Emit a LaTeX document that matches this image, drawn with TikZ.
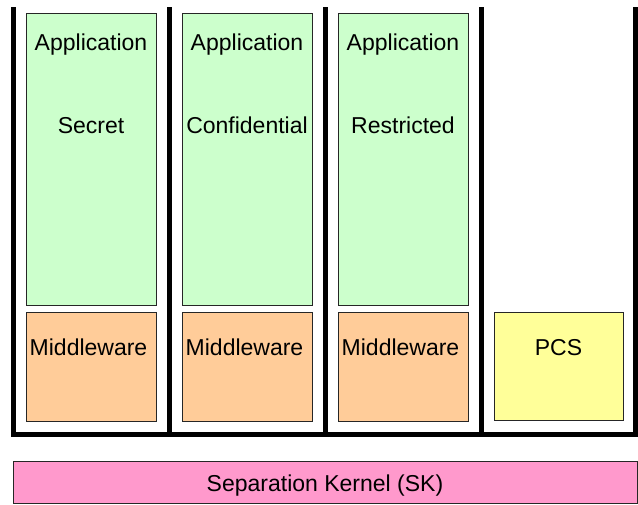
\documentclass[tikz,border=0pt]{standalone}
\usepackage{fontspec}
\setmainfont{Liberation Sans}
\definecolor{appgreen}{HTML}{CCFFCC}
\definecolor{midorange}{HTML}{FFCC99}
\definecolor{pcsyellow}{HTML}{FFFF99}
\definecolor{skpink}{HTML}{FF99CC}
\begin{document}
\begin{tikzpicture}[x=1pt,y=-1pt,
  box/.style={draw=black!85, line width=0.9pt, inner sep=0pt, anchor=north west},
  appbox/.style={box, fill=appgreen, minimum width=130pt, minimum height=292pt},
  midbox/.style={box, fill=midorange, minimum width=130pt, minimum height=109pt},
  lbl/.style={anchor=base, inner sep=0pt, font=\fontsize{23}{27}\selectfont},
  frameline/.style={line width=5.5pt, black, line join=miter}]
\useasboundingbox (0,0) rectangle (638,504);
% frame
\draw[frameline] (13.5,7) -- (13.5,434.5) -- (635.5,434.5) -- (635.5,7);
\draw[frameline] (169.5,7) -- (169.5,434.5);
\draw[frameline] (325.5,7) -- (325.5,434.5);
\draw[frameline] (481.5,7) -- (481.5,434.5);
% application boxes
\node[appbox] (app1) at (26,13) {};
\node[appbox] (app2) at (182,13) {};
\node[appbox] (app3) at (338,13) {};
\node[lbl] (a1) at (91,50) {Application};
\node[lbl] (a2) at (247,50) {Application};
\node[lbl] (a3) at (403,50) {Application};
\node[lbl] (s1) at (91,133) {Secret};
\node[lbl] (s2) at (247,133) {Confidential};
\node[lbl] (s3) at (403,133) {Restricted};
% middleware boxes
\node[midbox] (mid1) at (26,312) {};
\node[midbox] (mid2) at (182,312) {};
\node[midbox] (mid3) at (338,312) {};
\node[lbl] (m1) at (88.5,355) {Middleware};
\node[lbl] (m2) at (244.5,355) {Middleware};
\node[lbl] (m3) at (400.5,355) {Middleware};
% PCS
\node[box, fill=pcsyellow, minimum width=129pt, minimum height=108pt] (pcs) at (494,312) {};
\node[lbl] (pcst) at (558.5,355) {PCS};
% separation kernel
\node[box, fill=skpink, minimum width=624pt, minimum height=42pt] (sk) at (13,461) {};
\node[lbl] (skt) at (325,491) {Separation Kernel (SK)};
\end{tikzpicture}
\end{document}
